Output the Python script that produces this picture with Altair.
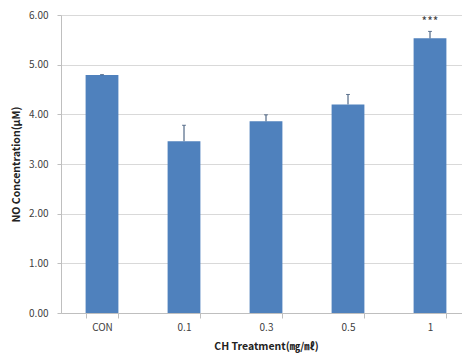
import altair as alt
import pandas as pd

categories = ["CON", "0.1", "0.3", "0.5", "1"]
means = [4.79, 3.46, 3.86, 4.20, 5.53]
errors = [0.01, 0.32, 0.13, 0.20, 0.14]
marks = ["", "", "", "", "***"]

df = pd.DataFrame({"cat": categories, "mean": means, "err": errors, "mark": marks})
df["top"] = df["mean"] + df["err"]

FONT = "Noto Sans CJK KR"

x_enc = alt.X(
    "cat:N",
    sort=categories,
    scale=alt.Scale(range=[0, 410], paddingInner=0.6, paddingOuter=0.3),
    axis=alt.Axis(
        title="CH Treatment(㎎/㎖)",
        labelAngle=0,
        tickBand="extent",
        tickSize=5,
        tickColor="#BFBFBF",
        domainColor="#BFBFBF",
        labelPadding=4,
        labelFontSize=10,
        labelColor="#404040",
        titleFontSize=10.5,
        titleFontWeight="bold",
        titleColor="#222222",
        titlePadding=9,
        titleX=205,
        grid=False,
    ),
)

y_scale = alt.Scale(domain=[0, 6], nice=False, zero=True)

bars = alt.Chart(df).mark_bar(color="#4F81BD").encode(
    x=x_enc,
    y=alt.Y(
        "mean:Q",
        scale=y_scale,
        axis=alt.Axis(
            title="NO Concentration(μM)",
            values=[0, 1, 2, 3, 4, 5, 6],
            format=".2f",
            tickSize=4,
            tickColor="#BFBFBF",
            domainColor="#BFBFBF",
            gridColor="#D9D9D9",
            labelPadding=9,
            labelFontSize=10,
            labelColor="#404040",
            titleFontSize=10.5,
            titleFontWeight="bold",
            titleColor="#222222",
            titlePadding=7,
        ),
    ),
)

err_rule = alt.Chart(df).mark_rule(color="#2F4A6E", strokeWidth=1).encode(
    x=alt.X("cat:N", sort=categories),
    y=alt.Y("mean:Q", scale=y_scale),
    y2="top:Q",
)

cap = alt.Chart(df).mark_tick(color="#2F4A6E", thickness=1, size=4, orient="horizontal").encode(
    x=alt.X("cat:N", sort=categories),
    y=alt.Y("top:Q", scale=y_scale),
)

stars = alt.Chart(df).mark_text(
    baseline="bottom", dy=-2, fontSize=12, color="#404040", font=FONT
).encode(
    x=alt.X("cat:N", sort=categories),
    y=alt.Y("top:Q", scale=y_scale),
    text="mark:N",
)

chart = (
    alt.layer(bars, err_rule, cap, stars)
    .properties(
        width=401,
        height=298,
        autosize=alt.AutoSizeParams(type="none"),
        padding={"left": 53, "top": 7, "right": 0, "bottom": 42},
    )
    .configure(font=FONT)
    .configure_view(stroke=None)
)

chart.save("out.html", embed_options={"renderer": "svg", "actions": False})
